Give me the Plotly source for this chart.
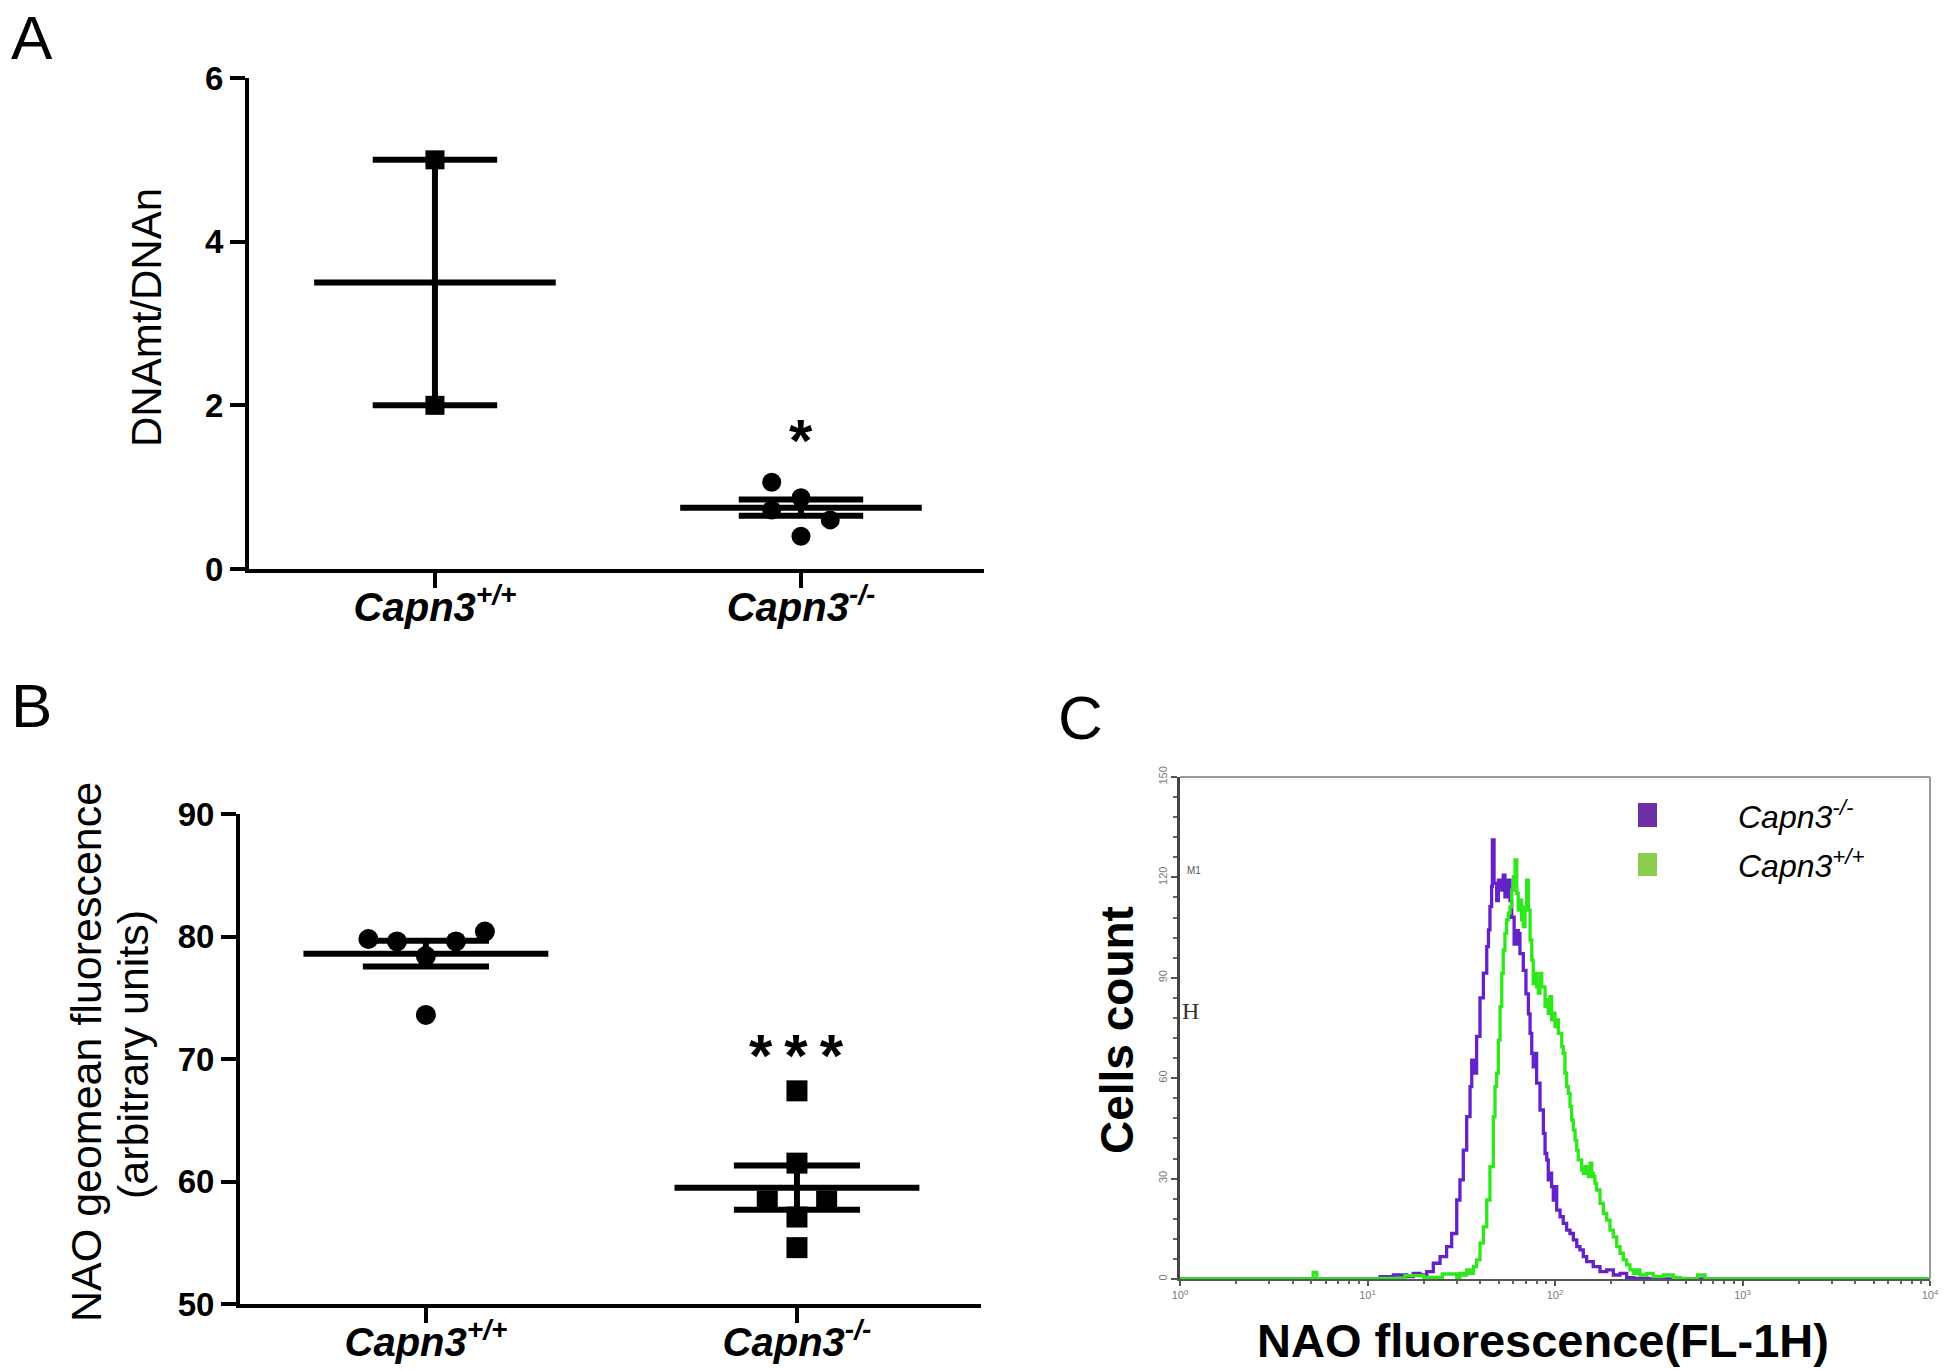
import numpy as np
import plotly.graph_objects as go

# ------------------------------------------------------------------ data
groups = ["Capn3+/+", "Capn3-/-"]
group_ticktext = ["Capn3<sup>+/+</sup>", "Capn3<sup>-/-</sup>"]

# Panel A : DNAmt / DNAn
a_ticks = [0, 2, 4, 6]
a_wt_values = [5.0, 2.0]
a_wt_jitter = [0.0, 0.0]
a_ko_values = [1.06, 0.87, 0.60, 0.40, 0.72]
a_ko_jitter = [-0.08, 0.0, 0.08, 0.0, -0.08]
a_means = [3.5, 0.75]
a_sems = [1.5, 0.10]
a_sig_text = "*"
a_sig_y = 1.66

# Panel B : NAO geomean fluorescence
b_ticks = [50, 60, 70, 80, 90]
b_wt_values = [79.8, 79.6, 78.4, 79.6, 80.4, 73.6]
b_wt_jitter = [-0.155, -0.078, 0.0, 0.081, 0.159, 0.0]
b_ko_values = [67.4, 61.5, 58.4, 58.4, 57.1, 54.6]
b_ko_jitter = [0.0, 0.0, -0.08, 0.08, 0.0, 0.0]
b_means = [78.6, 59.5]
b_sems = [1.05, 1.8]
b_sig_text = "*\u2009*\u2009*"
b_sig_y = 71.0

# Panel C : flow-cytometry histograms (log10 FL-1H channel, cell count)
c_xticks = [1, 10, 100, 1000, 10000]
c_xticktext = ["10<sup>0</sup>", "10<sup>1</sup>", "10<sup>2</sup>", "10<sup>3</sup>", "10<sup>4</sup>"]
c_yticks = [0, 30, 60, 90, 120, 150]
ko_hist = [  # Capn3-/-  (purple)
    (0.00, 0), (1.00, 0), (1.067, 0.7), (1.138, 1.2), (1.209, 0.7), (1.244, 1.7), (1.280, 1.2),
    (1.316, 2.2), (1.351, 4.7), (1.387, 6.7), (1.422, 9.7), (1.449, 13.6), (1.476, 23.6),
    (1.493, 29.6), (1.511, 38.5), (1.529, 48.5), (1.547, 57.5), (1.556, 65.4), (1.565, 61.5),
    (1.582, 72.5), (1.600, 84.0), (1.618, 91.4), (1.636, 99.3), (1.645, 104.3), (1.653, 111.3),
    (1.662, 117.3), (1.666, 131.2), (1.675, 118.2), (1.689, 113.1), (1.698, 119.2), (1.707, 117.2),
    (1.716, 116.2), (1.724, 120.7), (1.733, 114.2), (1.746, 119.2), (1.760, 113.1), (1.769, 108.1),
    (1.782, 100.1), (1.796, 104.1), (1.804, 103.3), (1.813, 97.2), (1.831, 92.2), (1.845, 85.2),
    (1.858, 79.2), (1.867, 73.4), (1.876, 67.4), (1.884, 63.4), (1.893, 67.4), (1.902, 58.5),
    (1.920, 50.5), (1.938, 43.5), (1.947, 37.5), (1.956, 35.6), (1.964, 29.6), (1.973, 31.6),
    (1.982, 27.6), (1.991, 23.6), (2.000, 27.6), (2.009, 20.6), (2.027, 18.6), (2.044, 16.6),
    (2.062, 14.6), (2.080, 13.6), (2.098, 11.7), (2.116, 9.7), (2.133, 8.7), (2.151, 6.7),
    (2.169, 5.2), (2.204, 3.7), (2.240, 2.2), (2.276, 2.7), (2.311, 1.2), (2.347, 1.7),
    (2.382, 0.4), (2.418, 0.2), (2.50, 0), (4.00, 0),
]
wt_hist = [  # Capn3+/+  (green)
    (0.00, 0), (0.69, 0), (0.71, 2.0), (0.73, 0), (1.067, 0.2), (1.20, 1.0), (1.30, 0.5),
    (1.40, 1.5), (1.476, 0.4), (1.493, 1.7), (1.511, 1.2), (1.529, 2.7), (1.547, 1.7),
    (1.565, 3.7), (1.582, 5.7), (1.600, 10.7), (1.618, 15.6), (1.636, 23.6), (1.653, 33.6),
    (1.671, 48.5), (1.680, 57.5), (1.689, 61.5), (1.698, 71.4), (1.707, 81.4), (1.716, 91.3),
    (1.724, 98.3), (1.733, 103.3), (1.742, 107.3), (1.751, 109.3), (1.760, 111.2), (1.769, 116.2),
    (1.778, 120.2), (1.787, 125.2), (1.796, 115.2), (1.804, 110.2), (1.813, 113.2), (1.822, 107.3),
    (1.831, 105.3), (1.840, 111.2), (1.849, 119.2), (1.858, 110.2), (1.867, 101.3), (1.876, 95.3),
    (1.884, 88.3), (1.893, 91.3), (1.902, 87.3), (1.911, 85.4), (1.920, 91.3), (1.929, 87.3),
    (1.938, 87.3), (1.947, 81.4), (1.956, 83.4), (1.964, 79.4), (1.973, 84.4), (1.982, 77.4),
    (1.991, 79.4), (2.000, 75.4), (2.009, 77.4), (2.018, 73.4), (2.027, 73.4), (2.036, 69.4),
    (2.044, 67.4), (2.053, 61.5), (2.062, 57.5), (2.071, 55.5), (2.080, 51.5), (2.089, 47.5),
    (2.098, 44.5), (2.107, 41.5), (2.116, 38.5), (2.124, 35.6), (2.133, 35.6), (2.142, 32.6),
    (2.151, 31.6), (2.160, 33.6), (2.169, 32.6), (2.178, 30.6), (2.187, 34.6), (2.196, 31.6),
    (2.204, 30.6), (2.213, 28.6), (2.222, 26.6), (2.240, 22.6), (2.258, 19.6), (2.276, 17.6),
    (2.293, 14.6), (2.311, 12.6), (2.329, 9.7), (2.347, 7.7), (2.364, 5.7), (2.382, 4.2),
    (2.400, 2.7), (2.418, 1.7), (2.436, 2.7), (2.453, 1.2), (2.489, 1.7), (2.524, 0.7),
    (2.578, 1.2), (2.631, 0.4), (2.667, 0.2), (2.70, 0), (2.76, 1.2), (2.80, 0), (4.00, 0),
]
gate_m1 = [1.58, 2.28]          # log10 channel limits of marker M1
legend_labels = ["Capn3<sup>-/-</sup>", "Capn3<sup>+/+</sup>"]

# ------------------------------------------------------------------ style
W, H = 1946, 1371
FONT = "Liberation Sans, Arial, Helvetica, sans-serif"
PURPLE, GREEN = "#6422c8", "#2ee81c"
SW_PURPLE, SW_GREEN = "#6d2fa6", "#8bcd4c"
MEAN_HALF, CAP_HALF = 0.33, 0.17


def xd(px):
    return px / W


def yd(py):
    return 1 - py / H


fig = go.Figure()


def err_trace(means, sems, xa, ya):
    xs, ys = [], []
    for i, (m, s) in enumerate(zip(means, sems)):
        xs += [i - MEAN_HALF, i + MEAN_HALF, None,
               i - CAP_HALF, i + CAP_HALF, None,
               i - CAP_HALF, i + CAP_HALF, None,
               i, i, None]
        ys += [m, m, None, m + s, m + s, None, m - s, m - s, None, m - s, m + s, None]
    return go.Scatter(x=xs, y=ys, mode="lines", line=dict(color="black", width=6),
                      xaxis=xa, yaxis=ya, hoverinfo="skip", cliponaxis=False)


def pts(values, jitter, idx, symbol, size, xa, ya):
    return go.Scatter(x=[idx + j for j in jitter], y=values, mode="markers",
                      marker=dict(symbol=symbol, size=size, color="black", line=dict(width=0)),
                      xaxis=xa, yaxis=ya, cliponaxis=False)


# Panel A
fig.add_trace(pts(a_wt_values, a_wt_jitter, 0, "square", 19, "x", "y"))
fig.add_trace(pts(a_ko_values, a_ko_jitter, 1, "circle", 19, "x", "y"))
fig.add_trace(err_trace(a_means, a_sems, "x", "y"))
# Panel B
fig.add_trace(pts(b_wt_values, b_wt_jitter, 0, "circle", 20, "x2", "y2"))
fig.add_trace(pts(b_ko_values, b_ko_jitter, 1, "square", 21, "x2", "y2"))
fig.add_trace(err_trace(b_means, b_sems, "x2", "y2"))
# Panel C
fig.add_trace(go.Scatter(x=[10 ** g for g in gate_m1], y=[-0.9, -0.9], mode="lines",
                         line=dict(color="#9a9a9a", width=3), xaxis="x3", yaxis="y3",
                         cliponaxis=False))
fig.add_trace(go.Scatter(x=[10 ** p[0] for p in ko_hist], y=[p[1] for p in ko_hist],
                         mode="lines", line=dict(color=PURPLE, width=3.3, shape="hv"),
                         xaxis="x3", yaxis="y3", cliponaxis=False))
fig.add_trace(go.Scatter(x=[10 ** p[0] for p in wt_hist], y=[p[1] for p in wt_hist],
                         mode="lines", line=dict(color=GREEN, width=3.3, shape="hv"),
                         xaxis="x3", yaxis="y3", cliponaxis=False))

axis_common = dict(showline=True, linewidth=4, linecolor="black", ticks="outside",
                   ticklen=15, tickwidth=4, tickcolor="black", showgrid=False,
                   zeroline=False, automargin=False)
cat_font = dict(family=FONT, size=40, color="black", weight="bold", style="italic")
num_font = dict(family=FONT, size=33, color="black", weight="bold")

fig.update_layout(
    template="none",
    width=W, height=H, margin=dict(l=0, r=0, t=0, b=0, pad=0, autoexpand=False),
    paper_bgcolor="white", plot_bgcolor="white", showlegend=False,
    xaxis=dict(domain=[xd(249), xd(984)], range=[-0.508, 1.5], anchor="y",
               tickvals=[0, 1], ticktext=group_ticktext, tickfont=cat_font,
               ticklabelstandoff=-15, **axis_common),
    yaxis=dict(domain=[yd(569), yd(78)], range=[0, 6], anchor="x",
               tickvals=a_ticks, tickfont=num_font, **axis_common),
    xaxis2=dict(domain=[xd(240), xd(981)], range=[-0.501, 1.496], anchor="y2",
                tickvals=[0, 1], ticktext=group_ticktext, tickfont=cat_font,
                ticklabelstandoff=-15, **axis_common),
    yaxis2=dict(domain=[yd(1304), yd(814)], range=[50, 90], anchor="x2",
                tickvals=b_ticks, tickfont=num_font, **axis_common),
    xaxis3=dict(domain=[xd(1180), xd(1930)], type="log", range=[0, 4], anchor="y3",
                tickvals=c_xticks, ticktext=c_xticktext, automargin=False,
                tickfont=dict(family=FONT, size=11, color="#7a7a7a"),
                showline=True, linewidth=2, linecolor="#555555", ticks="outside",
                ticklen=5, tickwidth=2, tickcolor="#555555", showgrid=False, zeroline=False,
                minor=dict(tickvals=[k * 10 ** d for d in range(4) for k in range(2, 10)],
                           ticks="outside", ticklen=3, tickwidth=2, tickcolor="#666666")),
    yaxis3=dict(domain=[yd(1279), yd(777)], range=[0, 150], anchor="x3",
                tickvals=c_yticks, tickangle=-90, automargin=False,
                tickfont=dict(family=FONT, size=11, color="#7a7a7a"),
                showline=True, linewidth=2.5, linecolor="#444444", ticks="outside",
                ticklen=6, tickwidth=2, tickcolor="#555555", showgrid=False, zeroline=False,
                minor=dict(dtick=6, ticks="outside", ticklen=4, tickwidth=2,
                           tickcolor="#666666")),
)

# frame of the histogram (top / right)
for x0, y0, x1, y1 in [(0, 1, 1, 1), (1, 0, 1, 1)]:
    fig.add_shape(type="line", xref="x3 domain", yref="y3 domain", x0=x0, y0=y0, x1=x1, y1=y1,
                  line=dict(color="#9a9a9a", width=2))

# legend of panel C
for (top, bot), col, lab in zip([(803, 827), (853, 876)], [SW_PURPLE, SW_GREEN], legend_labels):
    fig.add_shape(type="rect", xref="paper", yref="paper", x0=xd(1638), x1=xd(1657),
                  y0=yd(bot), y1=yd(top), fillcolor=col, line=dict(width=0))
    fig.add_annotation(xref="paper", yref="paper", x=xd(1736), y=yd((top + bot) / 2),
                       xanchor="left", yanchor="middle", text=lab, showarrow=False,
                       font=dict(family=FONT, size=32, color="black", style="italic"))

ann = []
# panel letters
for letter, (px, py) in zip("ABC", [(32, 37), (31, 705), (1080, 717)]):
    ann.append(dict(xref="paper", yref="paper", x=xd(px), y=yd(py), text=letter,
                    showarrow=False, xanchor="center", yanchor="middle",
                    font=dict(family=FONT, size=62, color="black")))
# axis titles
ann.append(dict(xref="paper", yref="paper", x=xd(146), y=yd(318), text="DNAmt/DNAn",
                textangle=-90, showarrow=False, xanchor="center", yanchor="middle",
                font=dict(family=FONT, size=42, color="black")))
ann.append(dict(xref="paper", yref="paper", x=xd(86), y=yd(1052),
                text="NAO geomean fluorescence", textangle=-90, showarrow=False,
                xanchor="center", yanchor="middle", font=dict(family=FONT, size=43, color="black")))
ann.append(dict(xref="paper", yref="paper", x=xd(133), y=yd(1055),
                text="(arbitrary units)", textangle=-90, showarrow=False,
                xanchor="center", yanchor="middle", font=dict(family=FONT, size=43, color="black")))
ann.append(dict(xref="paper", yref="paper", x=xd(1117), y=yd(1030), text="Cells count",
                textangle=-90, showarrow=False, xanchor="center", yanchor="middle",
                font=dict(family=FONT, size=46, color="black", weight="bold")))
ann.append(dict(xref="paper", yref="paper", x=xd(1543), y=yd(1340),
                text="NAO fluorescence(FL-1H)", showarrow=False, xanchor="center",
                yanchor="middle", font=dict(family=FONT, size=47, color="black", weight="bold")))
# significance stars
ann.append(dict(xref="x", yref="y", x=1, y=a_sig_y, text=a_sig_text, showarrow=False,
                xanchor="center", yanchor="middle", yshift=-7,
                font=dict(family=FONT, size=60, color="black", weight="bold")))
ann.append(dict(xref="x2", yref="y2", x=1, y=b_sig_y, text=b_sig_text, showarrow=False,
                xanchor="center", yanchor="middle", yshift=-9,
                font=dict(family=FONT, size=60, color="black", weight="bold")))
# flow-cytometer marker labels
ann.append(dict(xref="x3 domain", yref="y3", x=0.006, y=122, text="M1", showarrow=False,
                xanchor="left", yanchor="middle", font=dict(family=FONT, size=10, color="#555555")))
ann.append(dict(xref="x3 domain", yref="y3", x=0.0, y=80, text="H", showarrow=False,
                xanchor="left", yanchor="middle",
                font=dict(family="Liberation Serif, serif", size=24, color="#333333")))
for a in ann:
    fig.add_annotation(**a)

fig.write_html("out.html", config={"displayModeBar": False},
               post_script="document.body.style.margin='0';")
